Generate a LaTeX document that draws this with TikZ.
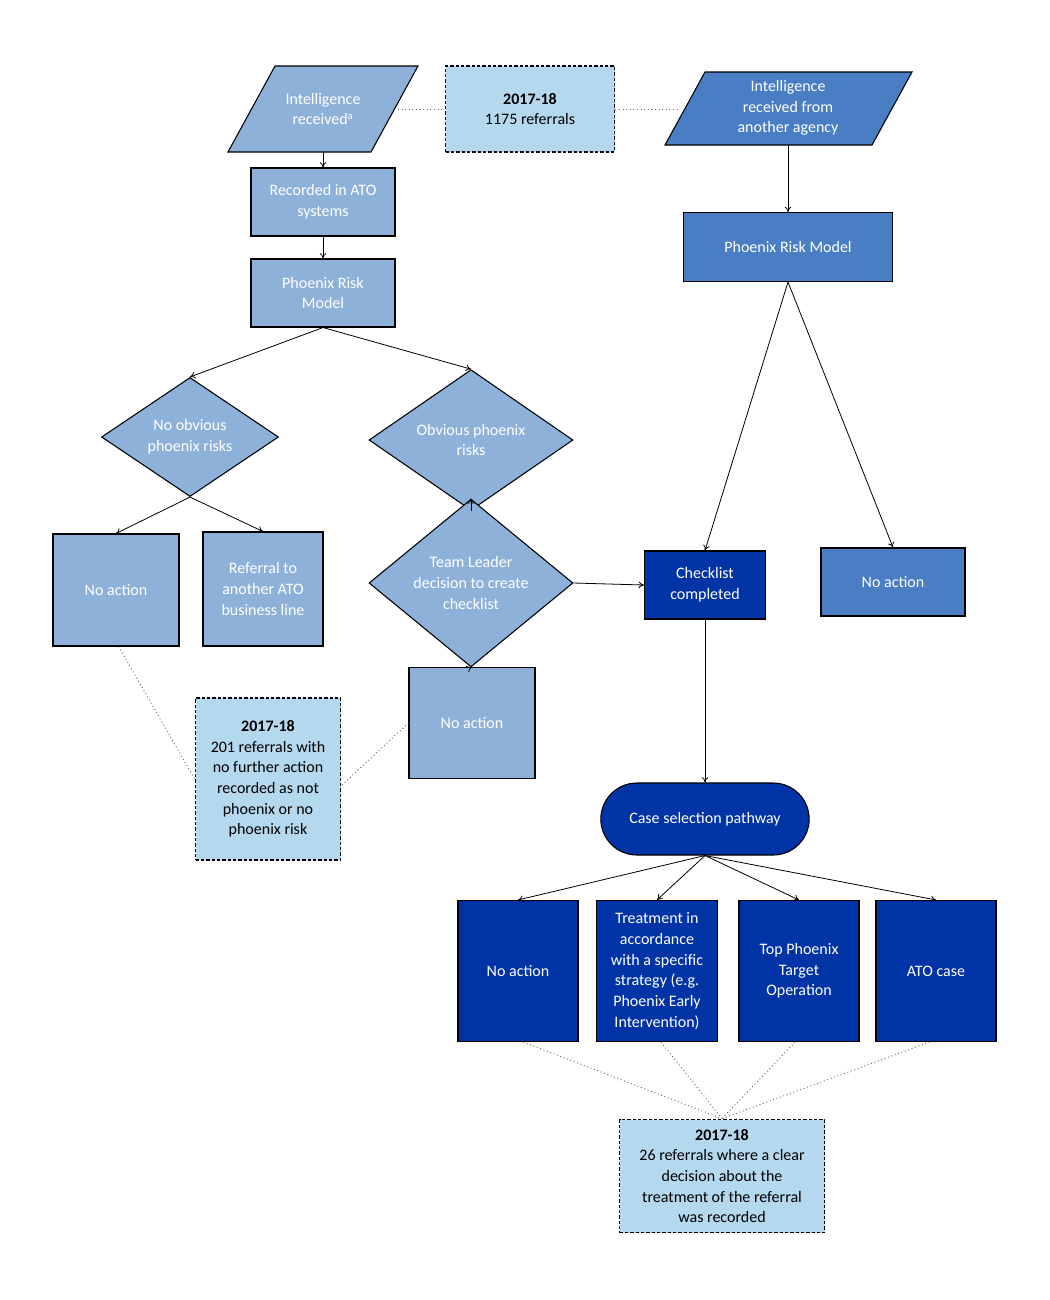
\documentclass[tikz,border=0pt]{standalone}
\usepackage{fontspec}
\setmainfont{Carlito}
\usetikzlibrary{shapes.geometric,shapes.misc,arrows.meta}
\definecolor{lb}{HTML}{8EB1DA}
\definecolor{mb}{HTML}{4A7EC4}
\definecolor{db}{HTML}{0033A6}
\definecolor{nb}{HTML}{B4D8EE}
\begin{document}
\begin{tikzpicture}[x=0.75pt,y=-0.75pt,font=\fontsize{12}{15.5}\selectfont,
  box/.style={draw=black,line width=0.8pt,text=white,align=center,inner sep=1pt},
  note/.style={draw=black,fill=nb,line width=1.3pt,dash pattern=on 2.5pt off 1.5pt,align=center,text=black,inner sep=2pt},
  arr/.style={-{To[length=4pt,width=5pt]},line width=0.6pt},
  dot/.style={dotted,line width=0.7pt,gray!80!black}]
\useasboundingbox (0,0) rectangle (1050,1300);
% parallelograms
\fill[lb] (228,152)--(275,66)--(418,66)--(371,152)--cycle;
\draw[line width=0.8pt] (228,152)--(275,66)--(418,66)--(371,152)--cycle;
\node[text=white,align=center,minimum height=86*0.75pt,minimum width=96*0.75pt,inner sep=0pt] (p1) at (323,109) {Intelligence\\received\textsuperscript{a}};
\fill[mb] (665,145)--(705,72)--(912,72)--(872,145)--cycle;
\draw[line width=0.8pt] (665,145)--(705,72)--(912,72)--(872,145)--cycle;
\node[text=white,align=center,minimum height=73*0.75pt,minimum width=170*0.75pt,inner sep=0pt] (p2) at (788,108) {Intelligence\\received from\\another agency};
% boxes
\node[box,fill=lb,minimum width=144*0.75pt,minimum height=68*0.75pt] (rec) at (323,202) {Recorded in ATO\\systems};
\node[box,fill=lb,minimum width=144*0.75pt,minimum height=68*0.75pt] (prm1) at (323,293) {Phoenix Risk\\Model};
\node[box,fill=mb,minimum width=209*0.75pt,minimum height=69*0.75pt] (prm2) at (788,247) {Phoenix Risk Model};
\node[box,fill=lb,diamond,minimum width=177*0.75pt,minimum height=113*0.75pt,inner sep=0pt] (d1) at (190,437) {No obvious\\phoenix risks};
\node[box,fill=lb,diamond,minimum width=204*0.75pt,minimum height=113*0.75pt,inner sep=0pt] (d2) at (471,440) {Obvious phoenix\\risks};
\node[box,fill=lb,diamond,minimum width=204*0.75pt,minimum height=124*0.75pt,inner sep=0pt] (d3) at (471,583) {Team Leader\\decision to create\\checklist};
\node[box,fill=lb,minimum width=126*0.75pt,minimum height=112*0.75pt] (na1) at (116,590) {No action};
\node[box,fill=lb,minimum width=120*0.75pt,minimum height=114*0.75pt] (ref) at (263,589) {Referral to\\another ATO\\business line};
\node[box,fill=lb,minimum width=126*0.75pt,minimum height=111*0.75pt] (na2) at (472,723) {No action};
\node[box,fill=db,minimum width=121*0.75pt,minimum height=68*0.75pt] (chk) at (705,585) {Checklist\\completed};
\node[box,fill=mb,minimum width=144*0.75pt,minimum height=68*0.75pt] (na3) at (893,582) {No action};
\node[box,fill=db,rounded rectangle,minimum width=211*0.75pt,minimum height=72*0.75pt] (case) at (705,819) {Case selection pathway};
\node[box,fill=db,minimum width=120*0.75pt,minimum height=141*0.75pt] (na4) at (518,971) {No action};
\node[box,fill=db,minimum width=121*0.75pt,minimum height=141*0.75pt] (tr) at (657,971) {Treatment in\\accordance\\with a specific\\strategy (e.g.\\Phoenix Early\\Intervention)};
\node[box,fill=db,minimum width=120*0.75pt,minimum height=141*0.75pt] (top) at (799,971) {Top Phoenix\\Target\\Operation};
\node[box,fill=db,minimum width=120*0.75pt,minimum height=141*0.75pt] (ato) at (936,971) {ATO case};
% notes
\node[note,minimum width=169*0.75pt,minimum height=86*0.75pt] (n1) at (530,109) {\textbf{2017-18}\\1175 referrals};
\node[note,minimum width=145*0.75pt,minimum height=162*0.75pt] (n2) at (268,779) {\textbf{2017-18}\\201 referrals with\\no further action\\recorded as not\\phoenix or no\\phoenix risk};
\node[note,minimum width=205*0.75pt,minimum height=113*0.75pt] (n3) at (722,1176) {\textbf{2017-18}\\26 referrals where a clear\\decision about the\\treatment of the referral\\was recorded};
% connectors
\draw[arr] (p1.south) -- (rec.north);
\draw[arr] (rec.south) -- (prm1.north);
\draw[arr] (p2.south) -- (prm2.north);
\draw[arr] (prm1.south) -- (d1.north);
\draw[arr] (prm1.south) -- (d2.north);
\draw[arr] (d1.south) -- (na1.north);
\draw[arr] (d1.south) -- (ref.north);
\draw[arr] (d2.south) -- (d3.north);
\draw[arr] (d3.east) -- (chk.west);
\draw[arr] (d3.south) -- (na2.north);
\draw[arr] (prm2.south) -- (chk.north);
\draw[arr] (prm2.south) -- (na3.north);
\draw[arr] (chk.south) -- (case.north);
\foreach \t in {na4,tr,top,ato} \draw[arr] (case.south) -- (\t.north);
% dotted
\draw[dot] (398,109) -- (n1.west);
\draw[dot] (n1.east) -- (678,109);
\draw[dot] ([xshift=2pt]na1.south) -- (n2.west);
\draw[dot] (na2.west) -- ([yshift=-5pt]n2.east);
\foreach \t/\s in {na4/4,tr/3,top/-3,ato/-5} \draw[dot] ([xshift=\s pt]\t.south) -- (n3.north);
\end{tikzpicture}
\end{document}
